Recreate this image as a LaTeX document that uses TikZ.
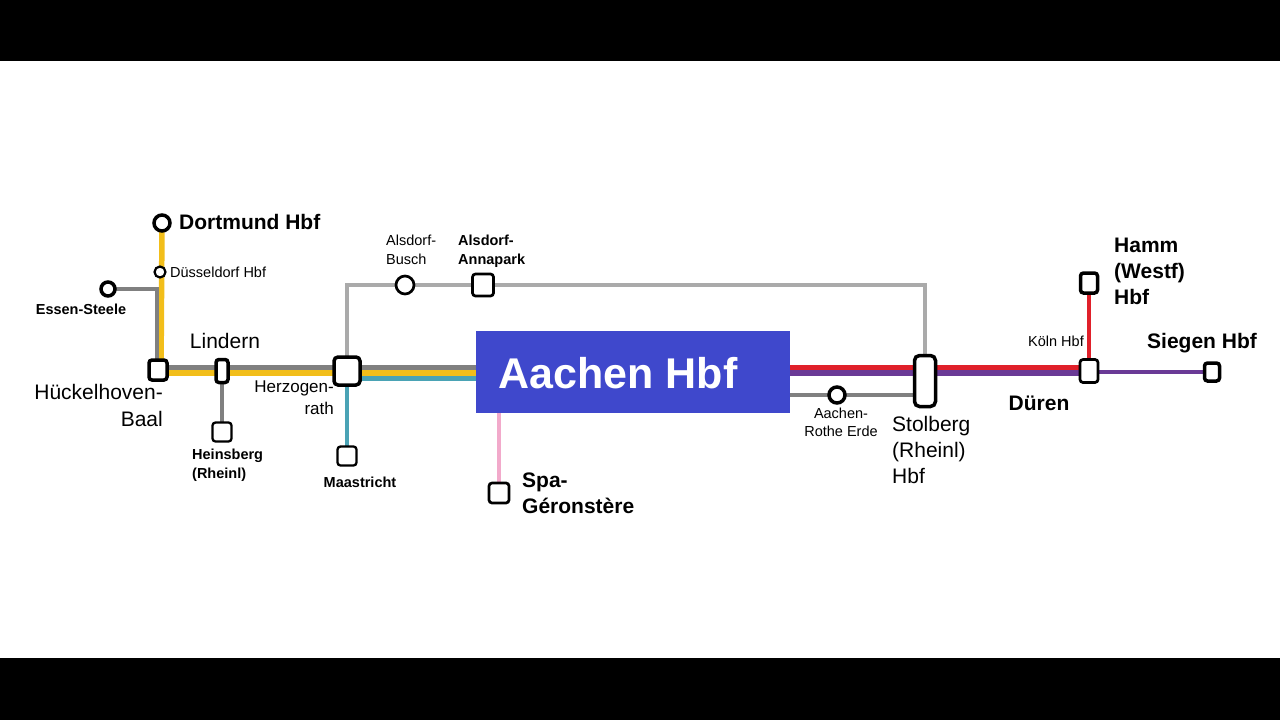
\documentclass[tikz,border=0pt]{standalone}
\usepackage{fontspec}
\setmainfont{Liberation Sans}
\begin{document}
\begin{tikzpicture}[x=1pt,y=-1pt,
 st/.style={draw=black,line width=3.5pt,fill=white,rounded corners=3pt,inner sep=0pt},
 cst/.style={draw=black,line width=3.5pt,fill=white,circle,inner sep=0pt},
 ln/.style={line width=5.5pt},
 lb/.style={font=\fontsize{14.5}{17}\selectfont,inner sep=0pt},
 lbb/.style={font=\fontsize{14.5}{17}\selectfont\bfseries,inner sep=0pt},
 Lb/.style={font=\fontsize{21}{25}\selectfont,inner sep=0pt},
 Lbb/.style={font=\fontsize{21}{25}\selectfont\bfseries,inner sep=0pt}]
\definecolor{yel}{HTML}{F2BE1A}
\definecolor{gr}{HTML}{808080}
\definecolor{lgr}{HTML}{AAAAAA}
\definecolor{teal}{HTML}{4AA3B5}
\definecolor{red}{HTML}{E0202A}
\definecolor{pur}{HTML}{6A3A96}
\definecolor{pink}{HTML}{F2AACB}
\definecolor{blu}{HTML}{3F48CC}
\fill[white] (0,0) rectangle (1280,720);
\fill[black] (0,0) rectangle (1280,61);
\fill[black] (0,658) rectangle (1280,720);
% Aachen box
\node[fill=blu,minimum width=314pt,minimum height=82pt,inner sep=0pt] (ac) at (633,372) {};
\node[text=white,font=\fontsize{43}{47}\selectfont\bfseries,inner sep=0pt] (act) at (618,373) {Aachen Hbf};
% coordinates
\coordinate (dor) at (162,223);
\coordinate (dus) at (160,272);
\coordinate (ess) at (108,289);
\coordinate (huk) at (158,370);
\coordinate (lin) at (222,371);
\coordinate (her) at (347,371);
\coordinate (hei) at (222,432);
\coordinate (maa) at (347,456);
\coordinate (ab) at (405,285);
\coordinate (aa) at (483,285);
\coordinate (spa) at (499,493);
\coordinate (are) at (837,395);
\coordinate (sto) at (925,381);
\coordinate (dur) at (1089,371);
\coordinate (ham) at (1089,283);
\coordinate (sie) at (1212,372);
% lines
\draw[ln,yel] (dor) -- (161,373);
\draw[ln,gr,line width=4.5pt] (ess) -- (157,289) -- (157,367);
\draw[ln,gr] (157,367.5) -- (476,367.5);
\draw[ln,yel] (161,373) -- (476,373);
\draw[ln,teal] (347,378.5) -- (476,378.5);
\draw[ln,teal,line width=4pt] (her) -- (maa);
\draw[ln,gr,line width=4.5pt] (lin) -- (hei);
\draw[lgr,line width=4pt] (347,371) -- (347,285) -- (925,285) -- (925,381);
\draw[pink,line width=4pt] (499,413) -- (spa);
\draw[ln,red] (790,367.5) -- (1089,367.5);
\draw[ln,pur] (790,373) -- (1089,373);
\draw[pur,line width=4.5pt] (1089,372) -- (sie);
\draw[red,line width=4.5pt] (dur) -- (ham);
\draw[gr,line width=4.5pt] (790,395) -- (925,395);
% stations
\node[cst,minimum size=16pt] (ndor) at (dor) {};
\node[cst,minimum size=11pt,line width=2.2pt] (ndus) at (dus) {};
\node[cst,minimum size=14pt] (ness) at (ess) {};
\node[st,minimum width=18pt,minimum height=20pt] (nhuk) at (huk) {};
\node[st,minimum width=12pt,minimum height=23pt] (nlin) at (lin) {};
\node[st,minimum width=26pt,minimum height=28pt,rounded corners=4pt] (nher) at (her) {};
\node[st,minimum width=19pt,minimum height=19pt,line width=2.3pt] (nhei) at (hei) {};
\node[st,minimum width=19pt,minimum height=19pt,line width=2.3pt] (nmaa) at (maa) {};
\node[cst,minimum size=18pt,line width=2.7pt] (nab) at (ab) {};
\node[st,minimum width=21pt,minimum height=22pt,line width=2.7pt] (naa) at (aa) {};
\node[st,minimum width=20pt,minimum height=20pt,line width=2.7pt] (nspa) at (spa) {};
\node[cst,minimum size=16pt] (nare) at (are) {};
\node[st,minimum width=21pt,minimum height=51pt,rounded corners=5pt] (nsto) at (sto) {};
\node[st,minimum width=18pt,minimum height=23pt,line width=2.7pt] (ndur) at (dur) {};
\node[st,minimum width=17pt,minimum height=20pt] (nham) at (ham) {};
\node[st,minimum width=15pt,minimum height=18pt] (nsie) at (sie) {};
% labels
\node[Lbb,anchor=west] at (179,222) {Dortmund Hbf};
\node[lb,anchor=west] at (170,272) {Düsseldorf Hbf};
\node[lbb,anchor=center] at (81,309) {Essen-Steele};
\node[Lb,anchor=center] at (225,341) {Lindern};
\node[Lb,align=right,anchor=north east,font=\fontsize{21}{27}\selectfont] at (163,384) {Hückelhoven-\\Baal};
\node[lb,align=right,anchor=north east,font=\fontsize{17}{22}\selectfont] at (334,381) {Herzogen-\\rath};
\node[lbb,align=left,anchor=north west,font=\fontsize{14.5}{19}\selectfont\bfseries] at (192,449) {Heinsberg\\(Rheinl)};
\node[lbb,anchor=center] at (360,482) {Maastricht};
\node[lb,align=left,anchor=north west,font=\fontsize{14.5}{19}\selectfont] at (386,235) {Alsdorf-\\Busch};
\node[lbb,align=left,anchor=north west,font=\fontsize{14.5}{19}\selectfont\bfseries] at (458,235) {Alsdorf-\\Annapark};
\node[Lbb,align=left,anchor=north west,font=\fontsize{21}{26}\selectfont\bfseries] at (522,473) {Spa-\\Géronstère};
\node[lb,align=center,anchor=north,font=\fontsize{14.5}{18}\selectfont] at (841,408) {Aachen-\\Rothe Erde};
\node[Lb,align=left,anchor=north west,font=\fontsize{21}{26}\selectfont] at (892,416) {Stolberg\\(Rheinl)\\Hbf};
\node[Lbb,anchor=center] at (1039,403) {Düren};
\node[lb,anchor=center] at (1056,341) {Köln Hbf};
\node[Lbb,align=left,anchor=north west,font=\fontsize{21}{26}\selectfont\bfseries] at (1114,238) {Hamm\\(Westf)\\Hbf};
\node[Lbb,anchor=center] at (1202,343) {Siegen Hbf};
\end{tikzpicture}
\end{document}
